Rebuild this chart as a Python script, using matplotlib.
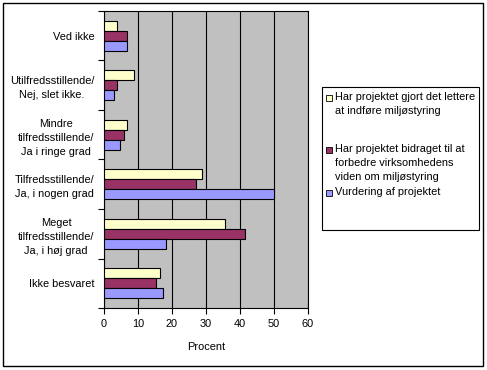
import matplotlib
matplotlib.use('Agg')
import matplotlib.pyplot as plt
from matplotlib.patches import Rectangle
import numpy as np

plt.rcParams['font.family'] = ['Liberation Sans', 'DejaVu Sans']

# Data
categories = ['Ved ikke',
              'Utilfredsstillende/\nNej, slet ikke.',
              'Mindre\ntilfredsstillende/\nJa i ringe grad',
              'Tilfredsstillende/\nJa, i nogen grad',
              'Meget\ntilfredsstillende/\nJa, i høj grad',
              'Ikke besvaret']
lettere = [3.8, 8.7, 6.9, 28.9, 35.6, 16.5]
viden = [6.9, 3.9, 6.0, 27.1, 41.6, 15.3]
vurdering = [6.9, 3.0, 4.8, 50.0, 18.2, 17.4]
series_labels = ['Har projektet gjort det lettere\nat indføre miljøstyring',
                 'Har projektet bidraget til at\nforbedre virksomhedens\nviden om miljøstyring',
                 'Vurdering af projektet']
colors = ['#FFFFCC', '#993366', '#9999FF']

fs = 7.9
W, H = 487, 370
fig = plt.figure(figsize=(W / 100, H / 100), dpi=100)
ax = fig.add_axes([104 / W, (H - 308) / H, (308 - 104) / W, (308 - 11) / H])
ax.set_facecolor('#C0C0C0')

y = np.arange(len(categories))
h = 0.2
for k, vals in enumerate([lettere, viden, vurdering]):
    ax.barh(y + (k - 1) * h, vals, height=h, color=colors[k],
            edgecolor='black', linewidth=0.8, zorder=3)

ax.set_xlim(0, 60)
ax.set_ylim(len(categories) - 0.5, -0.5)
ax.set_xticks(range(0, 61, 10))
ax.set_yticks(y)
ax.set_yticklabels(categories, fontsize=fs, multialignment='center')
for lab in ax.get_yticklabels():
    lab.set_linespacing(1.5)
ax.set_yticks(np.arange(-0.5, len(categories), 1), minor=True)
ax.tick_params(axis='y', which='major', length=0, pad=7)
ax.tick_params(axis='y', which='minor', length=4, direction='out', width=0.8)
ax.tick_params(axis='x', length=4, direction='out', width=0.8, labelsize=fs, pad=4)
ax.xaxis.grid(True, color='black', linewidth=0.8, zorder=1)
ax.set_axisbelow(True)
for s in ax.spines.values():
    s.set_linewidth(0.8)
    s.set_color('black')
ax.set_xlabel('Procent', fontsize=fs, labelpad=9)

# Legend box drawn by hand to match the reference spacing
lx0, ly0, lx1, ly1 = 322, 87, 479, 230
fig.patches.append(Rectangle((lx0 / W, 1 - ly1 / H), (lx1 - lx0) / W, (ly1 - ly0) / H,
                             transform=fig.transFigure, facecolor='white',
                             edgecolor='black', linewidth=0.8))
entry_y = [98, 150, 193]
for k in range(3):
    yy = entry_y[k]
    fig.patches.append(Rectangle((326 / W, 1 - (yy + 3) / H), 6 / W, 6 / H,
                                 transform=fig.transFigure, facecolor=colors[k],
                                 edgecolor='black', linewidth=0.6))
    fig.text(335 / W, 1 - (yy - 6) / H, series_labels[k], fontsize=fs,
             va='top', ha='left', linespacing=1.5)

# Outer border
fig.patches.append(Rectangle((3 / W, 1 - 366 / H), 480 / W, 363 / H,
                             transform=fig.transFigure, fill=False,
                             edgecolor='black', linewidth=1.0))

fig.savefig('out.png', dpi=100)
